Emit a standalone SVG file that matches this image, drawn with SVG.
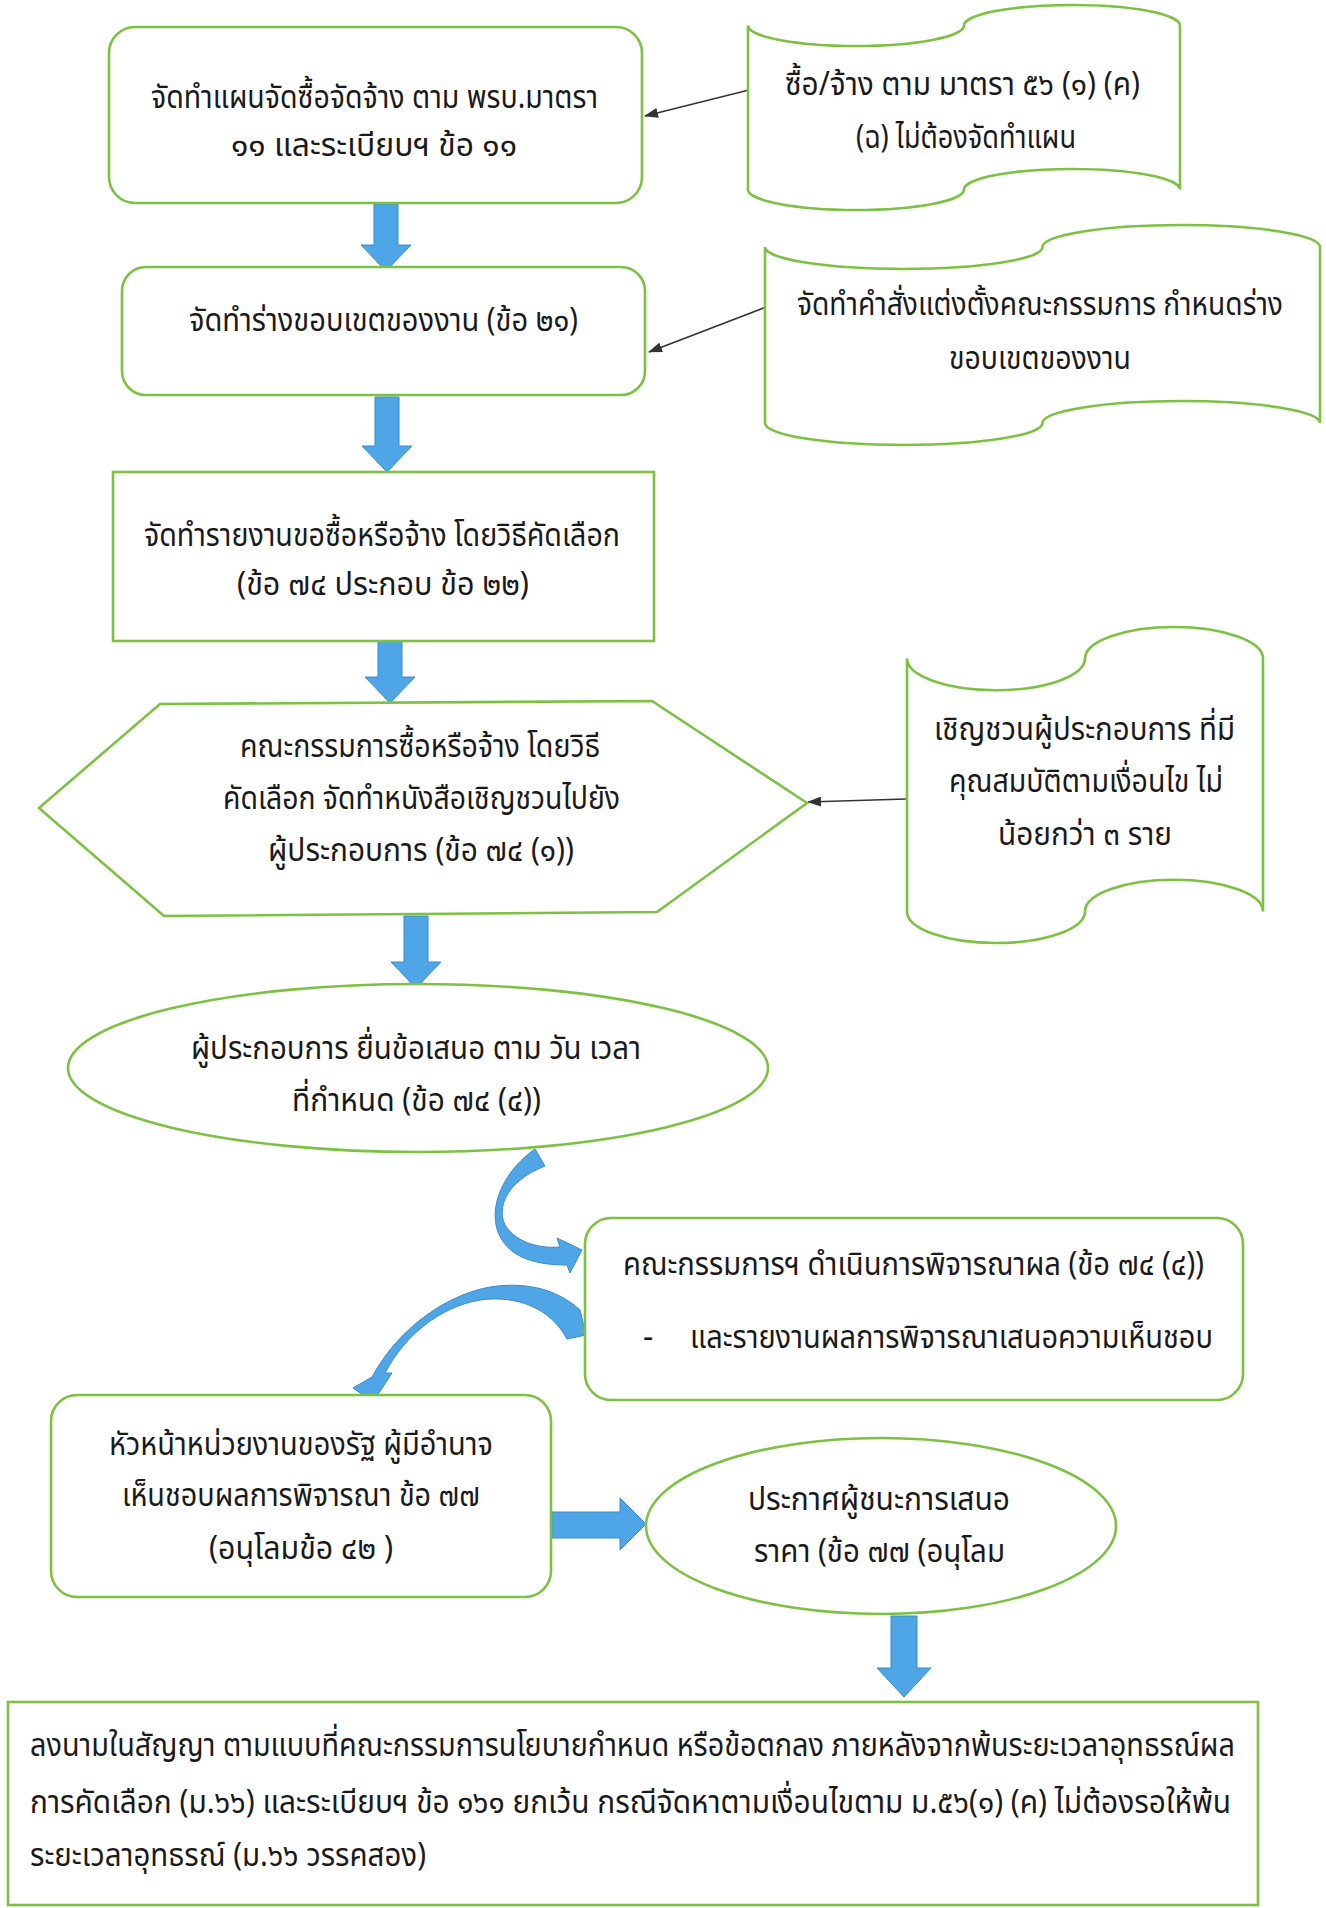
<svg xmlns="http://www.w3.org/2000/svg" width="1326" height="1908" viewBox="0 0 1326 1908">
  <style>
    .box { fill: #ffffff; stroke: #7dc142; stroke-width: 2.6; }
    .blk { fill: #4ea6e6; stroke: #3b8ccc; stroke-width: 1; }
    .thin { stroke: #333333; stroke-width: 1.6; fill: none; }
    .t { font-family: "Noto Sans Thai", "Noto Sans", "DejaVu Sans", sans-serif; font-size: 32px; font-stretch: 87.5%; fill: #1a1a1a; }
  </style>
  <defs>
    <marker id="ah" markerWidth="14" markerHeight="10" refX="13" refY="5" orient="auto" markerUnits="userSpaceOnUse">
      <path d="M0,0 L14,5 L0,10 Z" fill="#333333"/>
    </marker>
  </defs>

  <rect width="1326" height="1908" fill="#ffffff"/>

  <!-- connectors -->
  <g id="connectors">
    <line class="thin" x1="749" y1="90" x2="645" y2="116" marker-end="url(#ah)"/>
    <line class="thin" x1="766" y1="307" x2="649" y2="352" marker-end="url(#ah)"/>
    <line class="thin" x1="906" y1="799" x2="808" y2="802" marker-end="url(#ah)"/>
    <!-- straight block arrows -->
    <path class="blk" d="M374,204 H398 V245 H411 L386,271 L361,245 H374 Z"/>
    <path class="blk" d="M375,397 H399 V446 H412 L387,472 L362,446 H375 Z"/>
    <path class="blk" d="M378,641 H402 V677 H415 L390,703 L365,677 H378 Z"/>
    <path class="blk" d="M404,916 H428 V962 H441 L416,988 L391,962 H404 Z"/>
    <path class="blk" d="M552,1512 H620 V1498 L646,1524 L620,1550 V1538 H552 Z"/>
    <path class="blk" d="M891,1616 H917 V1668 H931 L904,1697 L877,1668 H891 Z"/>
    <!-- curved block arrows -->
    <path class="blk" d="M535,1149 C505,1170 488,1205 498,1232 C507,1255 530,1265 567,1265 L570,1273 L582,1250 L557,1238 L560,1247 C535,1249 514,1240 505,1225 C497,1208 505,1182 545,1166 Z"/>
    <path class="blk" d="M586,1335 L580,1310 C555,1287 522,1282 490,1287 C450,1294 400,1325 372,1377 L353,1388 L373,1402 L392,1373 L385,1373 C405,1335 440,1307 480,1300 C515,1295 550,1307 567,1339 Z"/>
  </g>

  <g id="plan">
    <rect class="box" x="109" y="27" width="533" height="176" rx="26"/>
    <text class="t" x="151" y="108" textLength="447" lengthAdjust="spacingAndGlyphs">จัดทำแผนจัดซื้อจัดจ้าง ตาม พรบ.มาตรา</text>
    <text class="t" x="231" y="156" textLength="286" lengthAdjust="spacingAndGlyphs">๑๑ และระเบียบฯ ข้อ ๑๑</text>
  </g>

  <g id="no-plan">
    <path class="box" d="M748,25.5 A108,20.5 0 0 0 964,25.5 A108,20.5 0 0 1 1180,25.5 V189.5 A108,20.5 0 0 0 964,189.5 A108,20.5 0 0 1 748,189.5 Z"/>
    <text class="t" x="785" y="95" textLength="355" lengthAdjust="spacingAndGlyphs">ซื้อ/จ้าง ตาม มาตรา ๕๖ (๑) (ค)</text>
    <text class="t" x="856" y="148" textLength="220" lengthAdjust="spacingAndGlyphs">(ฉ) ไม่ต้องจัดทำแผน</text>
  </g>

  <g id="scope">
    <rect class="box" x="122" y="267" width="523" height="128" rx="24"/>
    <text class="t" x="189" y="331" textLength="389" lengthAdjust="spacingAndGlyphs">จัดทำร่างขอบเขตของงาน (ข้อ ๒๑)</text>
  </g>

  <g id="committee-order">
    <path class="box" d="M765,247 A138.75,22 0 0 0 1042.5,247 A138.75,22 0 0 1 1320,247 V423 A138.75,22 0 0 0 1042.5,423 A138.75,22 0 0 1 765,423 Z"/>
    <text class="t" x="797" y="315" textLength="486" lengthAdjust="spacingAndGlyphs">จัดทำคำสั่งแต่งตั้งคณะกรรมการ กำหนดร่าง</text>
    <text class="t" x="949" y="369" textLength="182" lengthAdjust="spacingAndGlyphs">ขอบเขตของงาน</text>
  </g>

  <g id="report">
    <rect class="box" x="113" y="472" width="541" height="169"/>
    <text class="t" x="144" y="546" textLength="476" lengthAdjust="spacingAndGlyphs">จัดทำรายงานขอซื้อหรือจ้าง โดยวิธีคัดเลือก</text>
    <text class="t" x="237" y="595" textLength="292" lengthAdjust="spacingAndGlyphs">(ข้อ ๗๔ ประกอบ ข้อ ๒๒)</text>
  </g>

  <g id="invite">
    <path class="box" d="M39,808 L160,704 L652,701 L807,803 L657,912 L164,916 Z"/>
    <text class="t" x="240" y="757" textLength="360" lengthAdjust="spacingAndGlyphs">คณะกรรมการซื้อหรือจ้าง โดยวิธี</text>
    <text class="t" x="223" y="809" textLength="397" lengthAdjust="spacingAndGlyphs">คัดเลือก จัดทำหนังสือเชิญชวนไปยัง</text>
    <text class="t" x="268" y="861" textLength="306" lengthAdjust="spacingAndGlyphs">ผู้ประกอบการ (ข้อ ๗๔ (๑))</text>
  </g>

  <g id="invite-note">
    <path class="box" d="M907,658.6 A89,31.6 0 0 0 1085,658.6 A89,31.6 0 0 1 1263,658.6 V911.4 A89,31.6 0 0 0 1085,911.4 A89,31.6 0 0 1 907,911.4 Z"/>
    <text class="t" x="934" y="740" textLength="301" lengthAdjust="spacingAndGlyphs">เชิญชวนผู้ประกอบการ ที่มี</text>
    <text class="t" x="949" y="792" textLength="274" lengthAdjust="spacingAndGlyphs">คุณสมบัติตามเงื่อนไข ไม่</text>
    <text class="t" x="998" y="845" textLength="174" lengthAdjust="spacingAndGlyphs">น้อยกว่า ๓ ราย</text>
  </g>

  <g id="submit">
    <ellipse class="box" cx="418" cy="1068" rx="350" ry="84"/>
    <text class="t" x="191" y="1059" textLength="450" lengthAdjust="spacingAndGlyphs">ผู้ประกอบการ ยื่นข้อเสนอ ตาม วัน เวลา</text>
    <text class="t" x="292" y="1111" textLength="249" lengthAdjust="spacingAndGlyphs">ที่กำหนด (ข้อ ๗๔ (๔))</text>
  </g>

  <g id="evaluate">
    <rect class="box" x="585" y="1218" width="658" height="182" rx="26"/>
    <text class="t" x="623" y="1275" textLength="581" lengthAdjust="spacingAndGlyphs">คณะกรรมการฯ ดำเนินการพิจารณาผล (ข้อ ๗๔ (๔))</text>
    <text class="t" x="643" y="1348">-</text>
    <text class="t" x="690" y="1348" textLength="523" lengthAdjust="spacingAndGlyphs">และรายงานผลการพิจารณาเสนอความเห็นชอบ</text>
  </g>

  <g id="approve">
    <rect class="box" x="51" y="1395" width="500" height="202" rx="26"/>
    <text class="t" x="109" y="1455" textLength="384" lengthAdjust="spacingAndGlyphs">หัวหน้าหน่วยงานของรัฐ ผู้มีอำนาจ</text>
    <text class="t" x="122" y="1506" textLength="358" lengthAdjust="spacingAndGlyphs">เห็นชอบผลการพิจารณา ข้อ ๗๗</text>
    <text class="t" x="209" y="1559" textLength="184" lengthAdjust="spacingAndGlyphs">(อนุโลมข้อ ๔๒ )</text>
  </g>

  <g id="announce">
    <ellipse class="box" cx="881" cy="1526" rx="235" ry="88"/>
    <text class="t" x="748" y="1510" textLength="262" lengthAdjust="spacingAndGlyphs">ประกาศผู้ชนะการเสนอ</text>
    <text class="t" x="754" y="1562" textLength="251" lengthAdjust="spacingAndGlyphs">ราคา (ข้อ ๗๗ (อนุโลม</text>
  </g>

  <g id="contract">
    <rect class="box" x="8" y="1702" width="1250" height="203"/>
    <text class="t" x="30" y="1756" textLength="1205" lengthAdjust="spacingAndGlyphs">ลงนามในสัญญา ตามแบบที่คณะกรรมการนโยบายกำหนด หรือข้อตกลง ภายหลังจากพ้นระยะเวลาอุทธรณ์ผล</text>
    <text class="t" x="30" y="1813" textLength="1201" lengthAdjust="spacingAndGlyphs">การคัดเลือก (ม.๖๖) และระเบียบฯ ข้อ ๑๖๑ ยกเว้น กรณีจัดหาตามเงื่อนไขตาม ม.๕๖(๑) (ค) ไม่ต้องรอให้พ้น</text>
    <text class="t" x="30" y="1866" textLength="396" lengthAdjust="spacingAndGlyphs">ระยะเวลาอุทธรณ์ (ม.๖๖ วรรคสอง)</text>
  </g>
</svg>
